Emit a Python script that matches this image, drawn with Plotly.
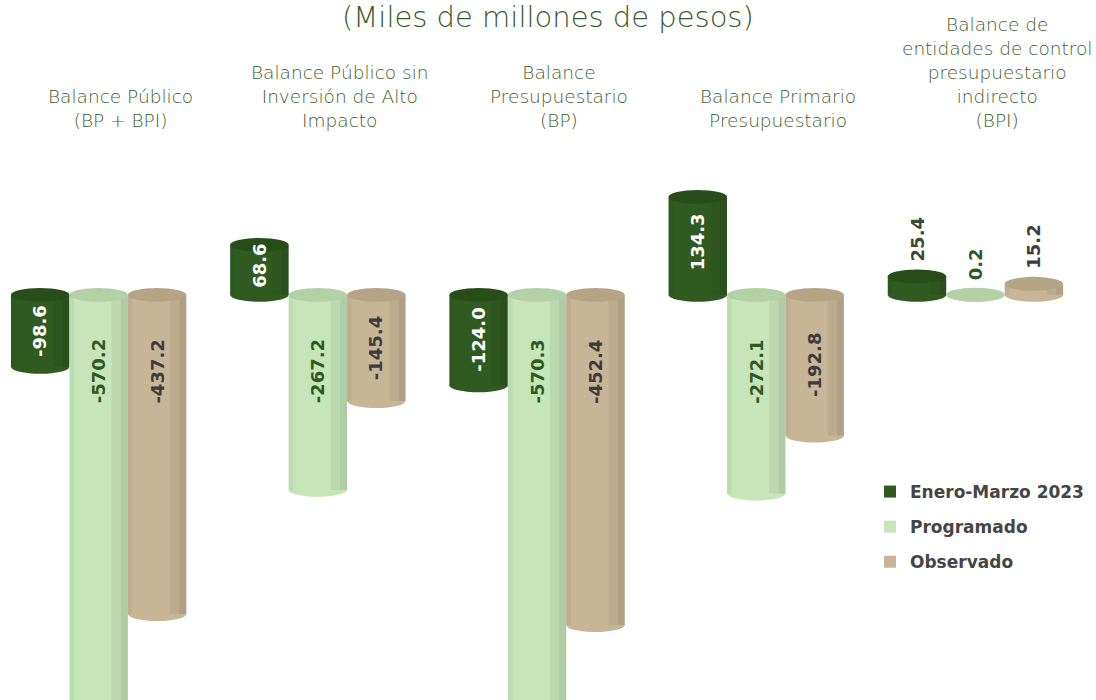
import plotly.graph_objects as go

categories = [
    "Balance Público<br>(BP + BPI)",
    "Balance Público sin<br>Inversión de Alto<br>Impacto",
    "Balance<br>Presupuestario<br>(BP)",
    "Balance Primario<br>Presupuestario",
    "Balance de<br>entidades de control<br>presupuestario<br>indirecto<br>(BPI)",
]
series_names = ["Enero-Marzo 2023", "Programado", "Observado"]
enero_marzo = [-98.6, 68.6, -124.0, 134.3, 25.4]
programado = [-570.2, -267.2, -570.3, -272.1, 0.2]
observado = [-437.2, -145.4, -452.4, -192.8, 15.2]
title_text = "(Miles de millones de pesos)"

series_values = [enero_marzo, programado, observado]
body_colors = ["#2f5b20", "#c6e5b9", "#c7b696"]
cap_colors = ["#274e19", "#b3d1a5", "#b6a585"]
label_colors = ["#ffffff", "#2e5a1e", "#3c3c3c"]
outside_label_colors = ["#3b4a33", "#2e5a1e", "#3c3c3c"]

x_idx = list(range(len(categories)))
bargap = 0.2
bar_w = (1 - bargap) / 3
cap_half = 9.5  # half height of cylinder caps (y units)

fig = go.Figure()
shapes = []
annotations = []
for s, (name, vals) in enumerate(zip(series_names, series_values)):
    fig.add_trace(go.Bar(
        name=name, x=x_idx, y=vals, legendgroup=name,
        marker=dict(color=body_colors[s], line=dict(width=0)),
        hoverinfo="skip",
    ))
    offset = (s - 1) * bar_w
    for i, v in enumerate(vals):
        xc = i + offset
        x0 = xc - bar_w / 2
        x1 = xc + bar_w / 2
        lo, hi = min(0, v), max(0, v)
        # rounded lower end
        shapes.append(dict(type="circle", xref="x", yref="y", x0=x0, x1=x1,
                           y0=lo - cap_half, y1=lo + cap_half,
                           fillcolor=body_colors[s], line=dict(width=0), layer="below"))
        # cylinder shading
        if hi - lo > 2:
            shapes.append(dict(type="rect", xref="x", yref="y", x0=x1 - bar_w * 0.28, x1=x1,
                               y0=lo, y1=hi, fillcolor="rgba(0,0,0,0.05)",
                               line=dict(width=0), layer="above"))
            shapes.append(dict(type="rect", xref="x", yref="y", x0=x1 - bar_w * 0.12, x1=x1,
                               y0=lo, y1=hi, fillcolor="rgba(0,0,0,0.06)",
                               line=dict(width=0), layer="above"))
            shapes.append(dict(type="rect", xref="x", yref="y", x0=x0, x1=x0 + bar_w * 0.08,
                               y0=lo, y1=hi, fillcolor="rgba(0,0,0,0.04)",
                               line=dict(width=0), layer="above"))
        # top cap
        shapes.append(dict(type="circle", xref="x", yref="y", x0=x0, x1=x1,
                           y0=hi - cap_half, y1=hi + cap_half,
                           fillcolor=cap_colors[s], line=dict(width=0), layer="above"))
        # data label
        txt = f"{v:.1f}"
        if abs(v) < 40:
            annotations.append(dict(text=txt, x=xc, y=hi + cap_half, xref="x", yref="y",
                                    xanchor="center", yanchor="bottom", yshift=6,
                                    textangle=-90, showarrow=False,
                                    font=dict(family="DejaVu Sans", size=18, weight="bold",
                                              color=outside_label_colors[s])))
        else:
            if v < 0:
                yc = -min(abs(v) / 2, 105)
            else:
                yc = v / 2 + 6
            annotations.append(dict(text=txt, x=xc, y=yc, xref="x", yref="y",
                                    xanchor="center", yanchor="middle",
                                    textangle=-90, showarrow=False,
                                    font=dict(family="DejaVu Sans", size=18, weight="bold",
                                              color=label_colors[s])))

annotations.append(dict(text=title_text, x=0.5, y=1.0, xref="paper", yref="paper",
                        xanchor="center", yanchor="top", yshift=2, showarrow=False,
                        font=dict(family="DejaVu Sans", size=29, weight=200, color="#3a5a2a")))
for i, c in enumerate(categories):
    annotations.append(dict(text=c, x=i + 0.10, y=1 - 133 / 700, xref="x", yref="paper",
                            xanchor="center", yanchor="bottom", showarrow=False,
                            align="center",
                            font=dict(family="DejaVu Sans", size=18.5, weight=200,
                                      color="#3f6030")))

fig.update_layout(
    width=1096, height=700,
    margin=dict(l=0, r=0, t=0, b=0),
    paper_bgcolor="white", plot_bgcolor="white",
    barmode="group", bargap=bargap, bargroupgap=0,
    xaxis=dict(range=[-0.45, 4.55], visible=False),
    yaxis=dict(range=[-555, 404], visible=False),
    shapes=shapes,
    annotations=annotations,
    legend=dict(x=870 / 1096, y=1 - 474 / 700, xanchor="left", yanchor="top",
                font=dict(family="DejaVu Sans", size=17, color="#454545", weight="bold"),
                tracegroupgap=10, itemwidth=30, bgcolor="rgba(0,0,0,0)"),
    showlegend=True,
)

fig.write_html("out.html", config={"displayModeBar": False},
               post_script="document.body.style.margin='0';")
